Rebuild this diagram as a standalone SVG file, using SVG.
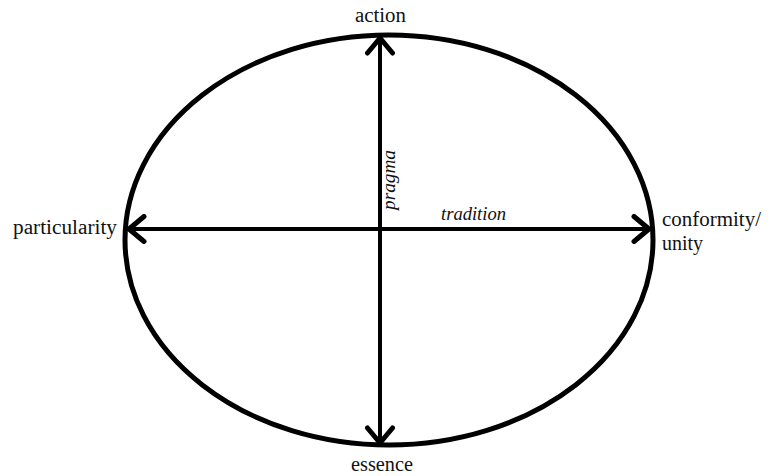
<svg xmlns="http://www.w3.org/2000/svg" width="775" height="476" viewBox="0 0 775 476">
<style>
.lbl{font-family:"Liberation Serif","DejaVu Serif",serif;font-size:20px;fill:#111}
.it{font-style:italic;font-size:19px}
.ax{stroke:#000;stroke-width:4;fill:none}
</style>
<defs>
<marker id="ah" markerUnits="userSpaceOnUse" markerWidth="30" markerHeight="30" viewBox="-16 -12 20 24" refX="0" refY="0" orient="auto-start-reverse">
<path d="M -12 -10 L 0 0 L -12 10" fill="none" stroke="#000" stroke-width="4" stroke-linecap="round" stroke-linejoin="round"/>
</marker>
</defs>
<rect width="775" height="476" fill="#fff"/>
<g id="ellipse">
<ellipse cx="389" cy="240" rx="264" ry="205" fill="none" stroke="#000" stroke-width="5"/>
</g>
<g id="connectors">
<line class="ax" x1="380" y1="38" x2="380" y2="443" marker-start="url(#ah)" marker-end="url(#ah)"/>
<line class="ax" x1="129" y1="229" x2="649" y2="229" marker-start="url(#ah)" marker-end="url(#ah)"/>
</g>
<g id="action"><text class="lbl" x="355" y="22" textLength="51" lengthAdjust="spacingAndGlyphs">action</text></g>
<g id="essence"><text class="lbl" x="351" y="471" textLength="62" lengthAdjust="spacingAndGlyphs">essence</text></g>
<g id="particularity"><text class="lbl" x="13" y="234" textLength="104" lengthAdjust="spacingAndGlyphs">particularity</text></g>
<g id="conformity"><text class="lbl" x="662" y="226" textLength="99" lengthAdjust="spacingAndGlyphs">conformity/</text><text class="lbl" x="662" y="250">unity</text></g>
<g id="pragma"><text class="lbl it" transform="translate(395 210) rotate(-90)" textLength="60" lengthAdjust="spacingAndGlyphs">pragma</text></g>
<g id="tradition"><text class="lbl it" x="441" y="220" textLength="65" lengthAdjust="spacingAndGlyphs">tradition</text></g>
</svg>
